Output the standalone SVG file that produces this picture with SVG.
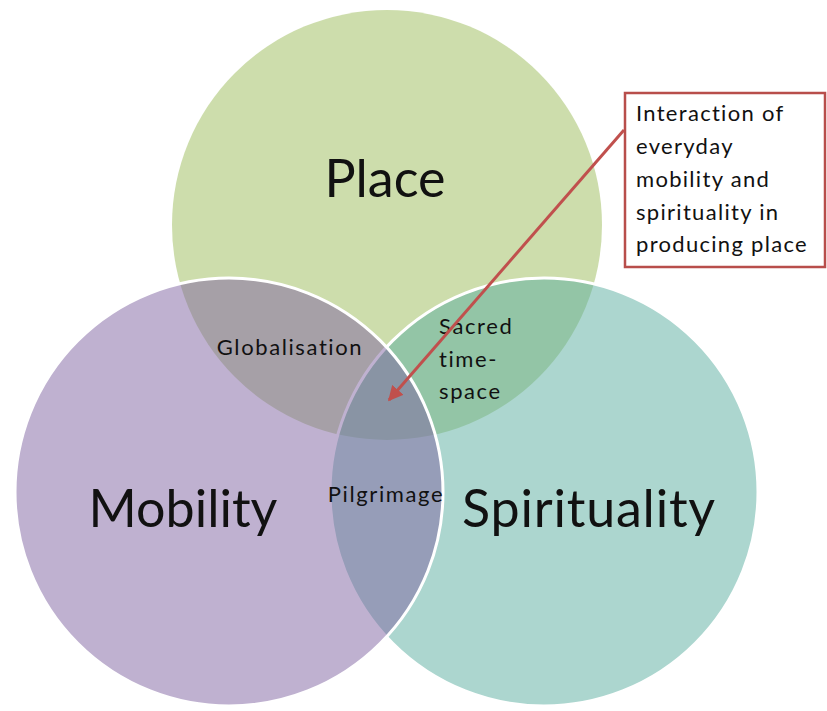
<svg xmlns="http://www.w3.org/2000/svg" width="827" height="711" viewBox="0 0 827 711">
<style>
.lbl{font-family:Lato,"Open Sans","Liberation Sans",sans-serif;fill:#111;}
.big{font-size:52px;text-anchor:middle;}
.small{font-size:22px;letter-spacing:1.6px;}
.call{font-size:22px;letter-spacing:1.3px;}
.circ{stroke:#fff;stroke-width:3;}
</style>
<defs>
<marker id="ah" viewBox="0 0 10 10" refX="9" refY="5" markerWidth="5" markerHeight="5" orient="auto" markerUnits="strokeWidth">
<path d="M0,0 L10,5 L0,10 z" fill="#c0504d"/>
</marker>
</defs>
<rect width="827" height="711" fill="#fff"/>
<g id="place">
<circle cx="387" cy="225" r="215" fill="#9bbb59" fill-opacity="0.5"/>
<text class="lbl big" x="385" y="197">Place</text>
</g>
<g id="spirituality">
<circle class="circ" cx="544" cy="492" r="214" fill="#59ad9f" fill-opacity="0.5"/>
</g>
<g id="mobility">
<circle class="circ" cx="229" cy="492" r="214" fill="#8064a2" fill-opacity="0.5"/>
<text class="lbl big" x="183" y="527">Mobility</text>
</g>
<text class="lbl big" x="589" y="527" style="letter-spacing:0.8px">Spirituality</text>
<g id="globalisation"><text class="lbl small" x="290" y="355" text-anchor="middle">Globalisation</text></g>
<g id="pilgrimage"><text class="lbl small" x="386" y="502" text-anchor="middle">Pilgrimage</text></g>
<g id="sacred"><text class="lbl small" x="439" y="334">Sacred<tspan x="439" y="367">time-</tspan><tspan x="439" y="399">space</tspan></text></g>
<g id="callout">
<rect x="625" y="93" width="200" height="174" fill="#fff" stroke="#b84e4b" stroke-width="2.5"/>
<text class="lbl call" x="636" y="121">Interaction of<tspan x="636" y="154">everyday</tspan><tspan x="636" y="187">mobility and</tspan><tspan x="636" y="220">spirituality in</tspan><tspan x="636" y="252">producing place</tspan></text>
</g>
<g id="connectors">
<line x1="624" y1="130" x2="389" y2="400" stroke="#c0504d" stroke-width="3" marker-end="url(#ah)"/>
</g>
</svg>
